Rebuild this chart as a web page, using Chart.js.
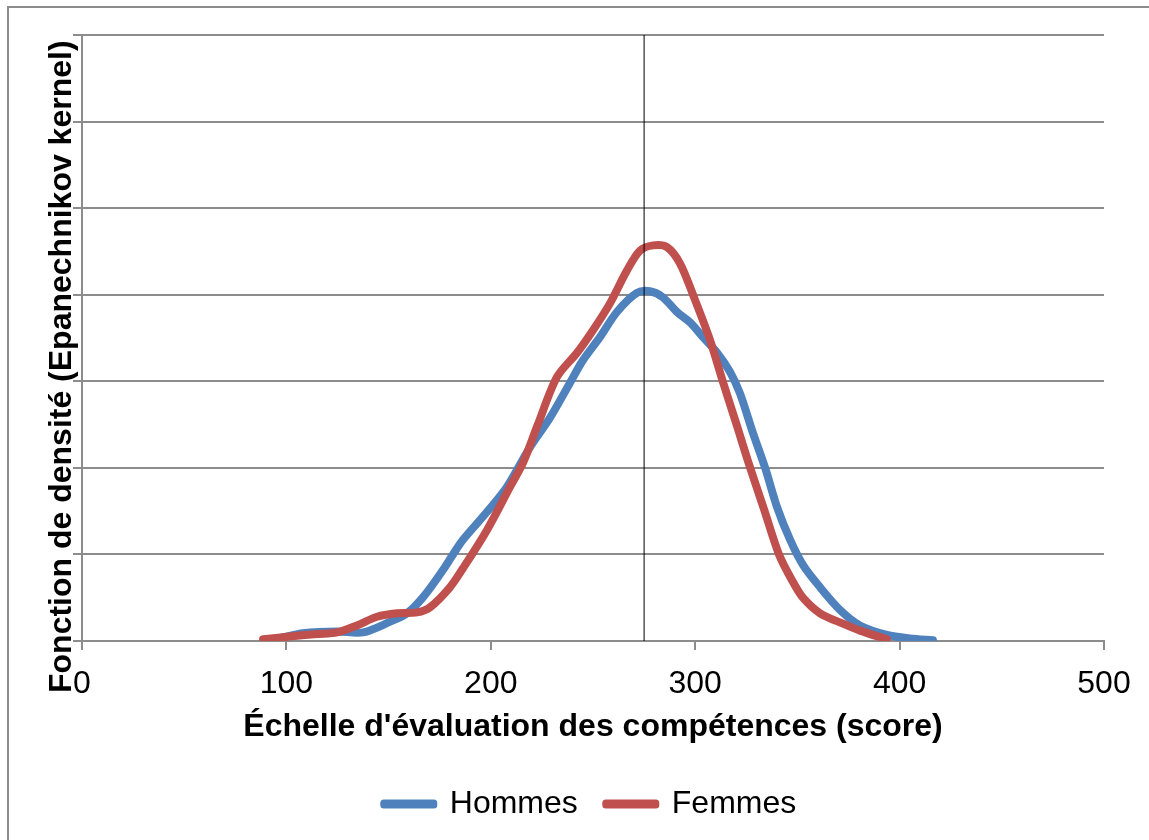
<!DOCTYPE html>
<html lang="fr">
<head>
<meta charset="utf-8">
<title>Fonction de densité</title>
<script src="https://cdn.jsdelivr.net/npm/chart.js@4.4.1/dist/chart.umd.min.js"></script>
<style>
  html, body { margin: 0; padding: 0; background: #fff; }
</style>
</head>
<body>
<canvas id="densiteChart" width="1149" height="840"></canvas>
<script>
// Densité estimée (noyau d'Epanechnikov) par score, hommes et femmes
const scoresHommes = [89.5, 100, 108, 125, 137.5, 150.5, 159, 167, 176.6, 181.5, 186.4, 198.1, 207.9, 219.2, 229, 238.7, 245, 253.4, 261.7, 271.5, 277.9, 284.2, 291.1, 297.5, 303.8, 310.7, 317, 321.9, 328.3, 334.2, 340, 346.4, 352.7, 361.1, 370.8, 380.6, 393.8, 405, 416.3];
const densiteHommes = [0.00000, 0.00005, 0.00009, 0.00011, 0.00010, 0.00022, 0.00032, 0.00051, 0.00082, 0.00100, 0.00117, 0.00149, 0.00178, 0.00224, 0.00258, 0.00298, 0.00324, 0.00351, 0.00380, 0.00402, 0.00404, 0.00397, 0.00380, 0.00368, 0.00351, 0.00333, 0.00311, 0.00286, 0.00240, 0.00200, 0.00155, 0.00117, 0.00088, 0.00062, 0.00036, 0.00018, 0.00007, 0.00003, 0.00001];

const scoresFemmes = [88.6, 100.3, 115, 124.8, 134.5, 144.3, 154.1, 163.9, 170.3, 180, 186.4, 198.1, 209.4, 215.8, 223, 232.4, 242.2, 250, 258.3, 266.6, 273, 279.4, 286.2, 292.6, 299.9, 307.2, 313.6, 320.5, 325.8, 333.7, 341, 347.4, 352.7, 361.1, 372.3, 380.6, 393.8];
const densiteFemmes = [0.00002, 0.00005, 0.00008, 0.00010, 0.00018, 0.00028, 0.00032, 0.00033, 0.00039, 0.00062, 0.00084, 0.00128, 0.00178, 0.00206, 0.00250, 0.00305, 0.00333, 0.00359, 0.00390, 0.00428, 0.00451, 0.00457, 0.00455, 0.00436, 0.00394, 0.00348, 0.00299, 0.00248, 0.00208, 0.00152, 0.00100, 0.00070, 0.00050, 0.00032, 0.00020, 0.00012, 0.00002];

// Ligne verticale (score moyen)
const ligneX = [275, 275];
const ligneY = [0, 0.007];

const ticksX = [0, 100, 200, 300, 400, 500];

const police = "'Liberation Sans', Arial, sans-serif";
const gris = '#8c8c8c';

function points(xs, ys) {
    return xs.map((x, i) => ({ x: x, y: ys[i] }));
}

// Cadre extérieur et titre de l'axe vertical
const decor = {
    id: 'decor',
    beforeDraw(chart) {
        const ctx = chart.ctx;
        ctx.save();
        ctx.strokeStyle = gris;
        ctx.lineWidth = 2;
        ctx.strokeRect(8, 7, 1400, 1000);
        ctx.restore();
    },
    afterDraw(chart) {
        const ctx = chart.ctx;
        ctx.save();
        ctx.translate(71, 693);
        ctx.rotate(-Math.PI / 2);
        ctx.font = 'bold 32px ' + police;
        ctx.fillStyle = '#000';
        ctx.textAlign = 'left';
        ctx.textBaseline = 'alphabetic';
        ctx.fillText('Fonction de densité (Epanechnikov kernel)', 0, 0);
        ctx.restore();
    }
};

const ctx = document.getElementById('densiteChart').getContext('2d');
const chart = new Chart(ctx, {
    type: 'line',
    data: {
        datasets: [
            {
                label: 'Hommes',
                data: points(scoresHommes, densiteHommes),
                borderColor: '#4f81bd',
                backgroundColor: '#4f81bd',
                borderWidth: 8,
                borderCapStyle: 'round',
                borderJoinStyle: 'round',
                tension: 0.3,
                pointRadius: 0,
                order: 3
            },
            {
                label: 'Femmes',
                data: points(scoresFemmes, densiteFemmes),
                borderColor: '#c0504d',
                backgroundColor: '#c0504d',
                borderWidth: 8,
                borderCapStyle: 'round',
                borderJoinStyle: 'round',
                tension: 0.3,
                pointRadius: 0,
                order: 2
            },
            {
                label: 'moyenne',
                data: points(ligneX, ligneY),
                borderColor: '#000',
                borderWidth: 1,
                pointRadius: 0,
                order: 1
            }
        ]
    },
    options: {
        responsive: false,
        animation: false,
        layout: {
            padding: { left: 76, right: 45, top: 35, bottom: 10 }
        },
        scales: {
            x: {
                type: 'linear',
                min: 0,
                max: 500,
                afterBuildTicks: axis => { axis.ticks = ticksX.map(v => ({ value: v })); },
                afterFit: axis => { axis.height = 119; },
                grid: { drawOnChartArea: false, tickLength: 9, color: gris, lineWidth: 2 },
                border: { color: gris, width: 2 },
                ticks: { color: '#000', font: { family: police, size: 32 }, padding: 15, maxRotation: 0 },
                title: {
                    display: true,
                    text: "Échelle d'évaluation des compétences (score)",
                    color: '#000',
                    font: { family: police, size: 32, weight: 'bold' },
                    padding: { top: 0, bottom: 14 }
                }
            },
            y: {
                min: 0,
                max: 0.007,
                ticks: { display: false, stepSize: 0.001 },
                grid: { color: gris, lineWidth: 2, tickLength: 9 },
                border: { color: gris, width: 2 },
                afterFit: axis => { axis.width = 6; }
            }
        },
        plugins: {
            legend: {
                position: 'bottom',
                labels: {
                    font: { family: police, size: 32 },
                    color: '#000',
                    boxWidth: 50,
                    boxHeight: 2,
                    padding: 28,
                    generateLabels: c => c.data.datasets.slice(0, 2).map((d, i) => ({
                        text: d.label,
                        fillStyle: d.borderColor,
                        strokeStyle: d.borderColor,
                        lineWidth: 7,
                        lineJoin: 'round',
                        lineCap: 'round',
                        hidden: false,
                        datasetIndex: i,
                        fontColor: '#000'
                    }))
                }
            },
            tooltip: { enabled: false }
        }
    },
    plugins: [decor]
});
</script>
</body>
</html>
